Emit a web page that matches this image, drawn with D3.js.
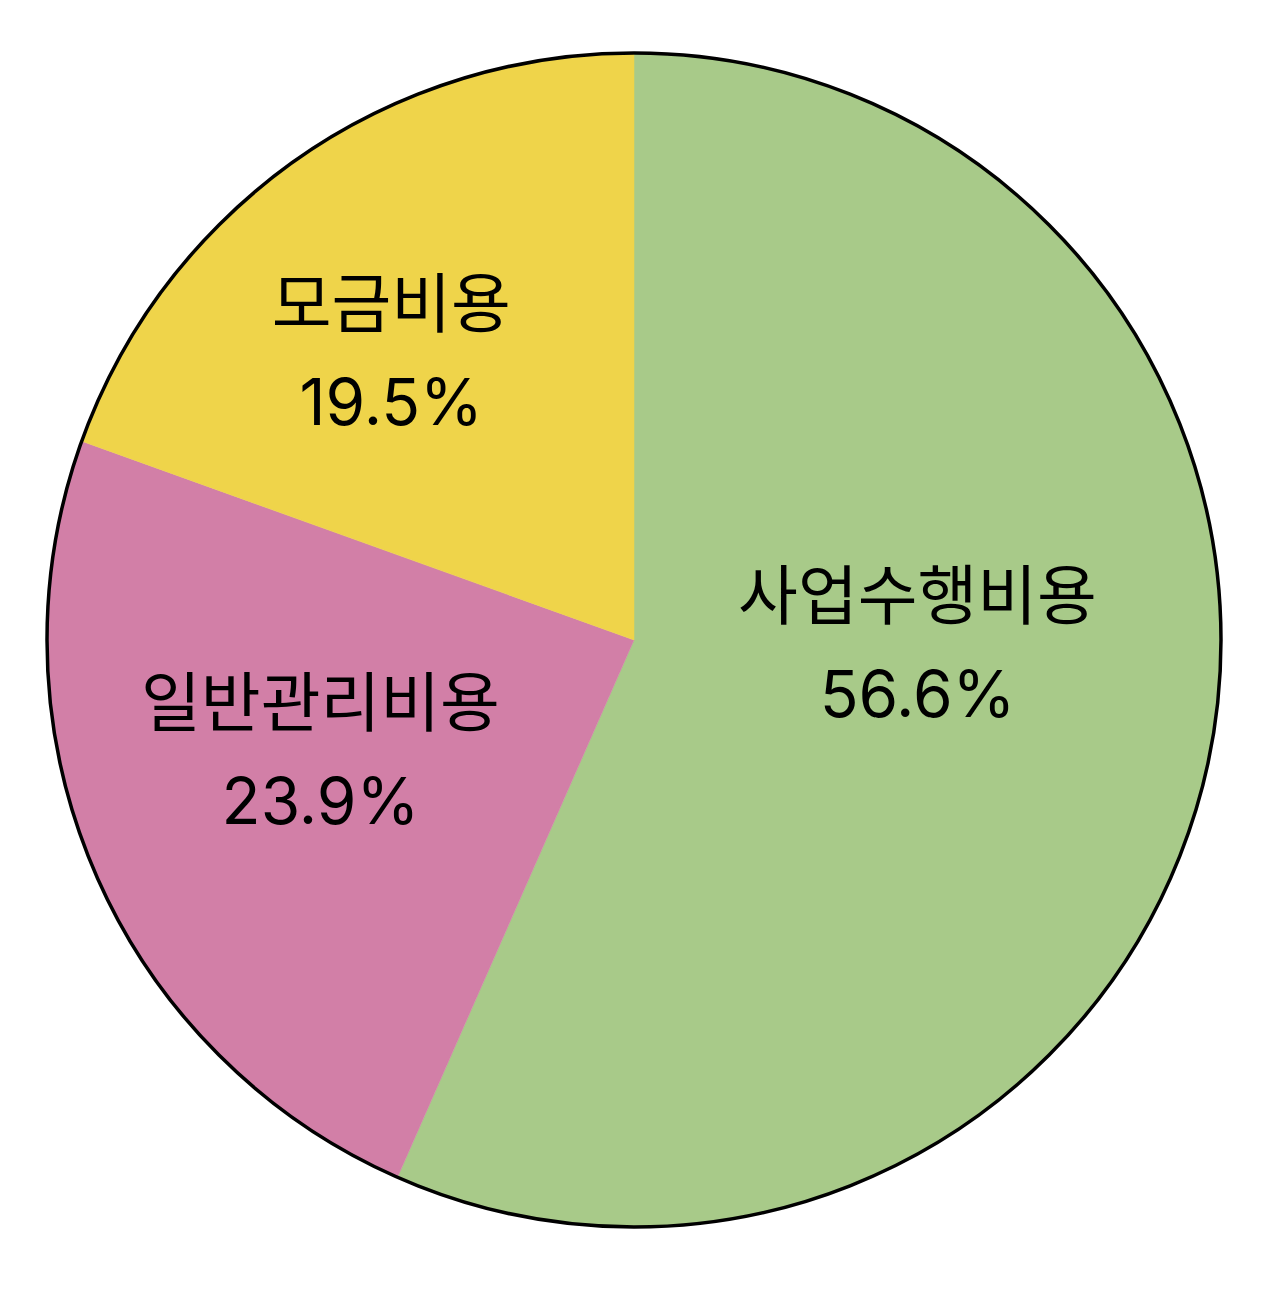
<!DOCTYPE html>
<html>
<head>
<meta charset="utf-8">
<script src="https://cdn.jsdelivr.net/npm/d3@7"></script>
<style>
  html, body { margin: 0; padding: 0; background: #fff; }
  svg { display: block; }
</style>
</head>
<body>
<svg id="chart"></svg>
<script>
// data
var categories = ['사업수행비용', '일반관리비용', '모금비용']
var percents = [56.6, 23.9, 19.5]
var colors = ['#a8ca89', '#d27fa7', '#efd44a']

// label placement (angle shift in degrees from slice middle, radius as fraction)
var labelShift = [-11.7, 4.2, -4.7]
var labelRadius = [0.483, 0.565, 0.646]

var width = 1264, height = 1314
var cx = 634, cy = 640, radius = 587

var svg = d3.select('svg#chart')
    .attr('width', width)
    .attr('height', height)

var pie = d3.pie()
    .value(d => d.value)
    .sort(null)

var data = categories.map((c, i) => ({ name: c, value: percents[i], color: colors[i], i: i }))
var arcs = pie(data)

var arc = d3.arc().innerRadius(0).outerRadius(radius)

var g = svg.append('g').attr('transform', `translate(${cx},${cy})`)

g.selectAll('path.slice')
  .data(arcs)
  .join('path')
    .attr('class', 'slice')
    .attr('d', arc)
    .attr('fill', d => d.data.color)
    .attr('stroke', d => d.data.color)
    .attr('stroke-width', 0.5)

// outer border
g.append('circle')
    .attr('r', radius)
    .attr('fill', 'none')
    .attr('stroke', '#000')
    .attr('stroke-width', 3.5)

var labels = g.selectAll('g.label')
  .data(arcs)
  .join('g')
    .attr('class', 'label')
    .attr('transform', d => {
      var a = (d.startAngle + d.endAngle) / 2 + labelShift[d.data.i] * Math.PI / 180
      var r = radius * labelRadius[d.data.i]
      return `translate(${r * Math.sin(a)},${-r * Math.cos(a)})`
    })

labels.append('text')
    .attr('y', -22)
    .attr('text-anchor', 'middle')
    .style('font-family', '"Noto Sans CJK KR", "Noto Sans", sans-serif')
    .style('font-size', '65px')
    .attr('fill', '#000')
    .text(d => d.data.name)

labels.append('text')
    .attr('y', 76)
    .attr('text-anchor', 'middle')
    .style('font-family', 'Inter, "Noto Sans", sans-serif')
    .style('font-size', '64px')
    .attr('fill', '#000')
    .text(d => `${d.data.value}%`)
</script>
</body>
</html>
